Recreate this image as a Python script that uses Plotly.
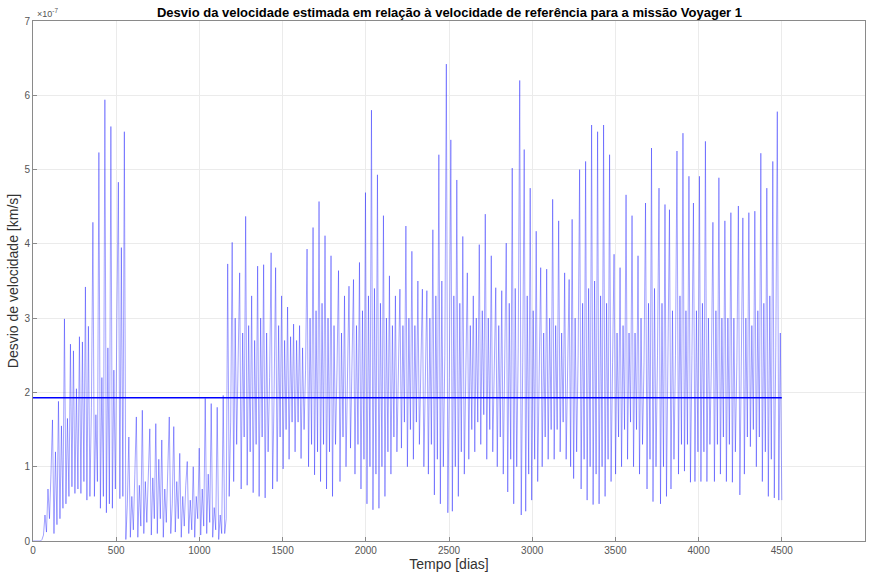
import numpy as np
import plotly.graph_objects as go

# Sampling interval of the series (days)
step_dias = 9
# Velocity deviation, in units of 1e-7 km/s
desvio_e7 = [
    0, 0, 0, 0, 0, 0, 0.02, 0.08, 0.35, 0.12,
    0.7, 0.3, 0.9, 1.63, 0.1, 1.2, 0.22, 1.88, 0.3, 1.55,
    0.44, 2.99, 0.5, 1.65, 0.6, 2.65, 0.73, 2.56, 0.64, 2.05,
    0.7, 2.75, 0.64, 2.68, 0.8, 3.42, 0.55, 2.89, 0.6, 1.8,
    4.29, 0.6, 1.7, 0.8, 5.23, 0.44, 2.2, 0.6, 5.94, 0.38,
    2.6, 0.5, 5.58, 0.44, 2.3, 0.7, 3.0, 4.83, 0.57, 3.95,
    0.6, 5.51, 0.02, 0.5, 1.40, 0.05, 0.6, 0.15, 0.9, 1.67,
    0.05, 0.75, 0.2, 1.76, 0.1, 0.8, 0.25, 0.9, 1.51, 0.08,
    0.85, 0.3, 1.58, 0.1, 1.1, 0.3, 1.36, 0.05, 0.7, 0.25,
    0.95, 1.67, 0.1, 0.5, 1.54, 0.12, 0.8, 0.3, 1.18, 0.05,
    0.6, 0.2, 0.75, 1.07, 0.1, 0.55, 0.15, 1.0, 0.05, 0.6,
    0.3, 1.25, 0.08, 0.7, 0.2, 1.92, 0.1, 0.9, 0.25, 1.85,
    0.05, 0.45, 0.15, 1.80, 0.02, 0.35, 0.1, 1.96, 0.1, 0.3,
    3.73, 0.6, 1.6, 4.02, 0.8, 3.0, 1.3, 2.4, 3.61, 0.7,
    2.8, 1.4, 4.37, 0.75, 2.9, 1.2, 3.3, 0.65, 2.7, 1.3,
    3.70, 0.6, 3.0, 1.4, 3.72, 0.58, 2.8, 1.2, 2.2, 3.88,
    0.7, 2.0, 3.68, 0.8, 2.9, 1.4, 3.30, 0.97, 2.7, 1.5,
    3.15, 1.1, 2.75, 1.6, 2.92, 1.2, 2.7, 1.6, 2.90, 1.11,
    2.6, 1.5, 2.3, 3.93, 1.0, 3.0, 1.3, 4.22, 0.89, 3.1,
    1.2, 4.57, 0.8, 3.2, 1.3, 4.11, 0.7, 3.0, 1.2, 3.84,
    0.6, 2.9, 1.3, 2.3, 3.64, 0.8, 2.8, 1.4, 3.30, 1.0,
    2.2, 3.43, 1.25, 2.4, 3.52, 0.9, 2.9, 1.3, 3.75, 0.7,
    3.1, 1.1, 4.69, 0.5, 3.3, 1.0, 5.80, 0.42, 3.4, 0.9,
    4.93, 0.44, 3.2, 1.0, 4.38, 0.6, 3.0, 1.2, 3.57, 0.9,
    2.9, 1.4, 3.30, 1.2, 2.3, 3.39, 1.25, 2.9, 1.6, 4.24,
    1.0, 3.0, 1.5, 3.90, 1.1, 2.9, 1.6, 3.50, 1.3, 2.4,
    3.39, 1.0, 2.5, 3.37, 0.9, 3.0, 1.3, 4.19, 0.62, 3.3,
    1.1, 5.20, 0.5, 3.5, 1.0, 2.5, 6.42, 0.38, 2.2, 5.40,
    0.4, 3.3, 1.0, 4.86, 0.6, 3.2, 1.2, 4.1, 0.9, 2.4,
    3.61, 1.1, 2.9, 1.5, 3.30, 1.2, 3.0, 1.6, 3.99, 1.3,
    3.1, 1.7, 4.40, 1.1, 3.0, 1.5, 3.84, 1.2, 2.5, 3.41,
    1.0, 2.9, 1.4, 3.37, 0.9, 2.3, 4.01, 0.66, 3.2, 1.1,
    5.02, 0.5, 3.4, 1.0, 2.6, 6.2, 0.35, 2.4, 5.27, 0.4,
    3.3, 0.9, 4.75, 0.55, 3.1, 1.1, 4.17, 0.8, 2.4, 3.68,
    1.0, 2.8, 1.4, 3.66, 1.1, 3.0, 1.5, 4.60, 1.1, 2.9,
    1.5, 4.31, 1.2, 2.8, 1.6, 3.61, 1.1, 2.4, 3.52, 1.0,
    4.33, 0.84, 3.0, 1.2, 2.5, 5.0, 0.7, 3.2, 1.1, 5.11,
    0.55, 3.4, 1.0, 5.60, 0.49, 3.5, 0.9, 5.51, 0.5, 3.3,
    1.0, 5.60, 0.6, 3.2, 1.1, 5.20, 0.8, 2.4, 3.86, 0.9,
    2.8, 1.4, 3.68, 1.0, 2.9, 1.5, 4.66, 1.1, 2.8, 1.6,
    4.38, 1.0, 2.8, 1.5, 3.84, 0.9, 3.0, 1.3, 2.4, 4.55,
    0.7, 3.2, 1.1, 5.29, 0.53, 3.4, 1.0, 2.5, 4.75, 0.5,
    3.2, 1.0, 4.53, 0.6, 2.4, 4.46, 0.7, 3.1, 1.1, 2.5,
    5.25, 0.9, 3.3, 1.3, 5.49, 0.94, 3.1, 1.3, 4.91, 0.79,
    2.5, 4.55, 0.8, 3.1, 1.2, 4.91, 0.8, 3.2, 1.2, 5.38,
    0.8, 3.0, 1.3, 2.4, 4.29, 0.8, 3.1, 1.3, 4.89, 0.9,
    3.0, 1.4, 4.31, 0.8, 3.0, 1.3, 4.42, 0.79, 3.0, 1.2,
    2.4, 4.51, 0.62, 2.5, 4.35, 0.9, 3.0, 1.4, 4.42, 1.27,
    2.9, 1.5, 4.44, 1.0, 3.1, 1.4, 5.22, 0.8, 3.2, 1.2,
    4.75, 0.6, 3.3, 1.1, 5.11, 0.58, 2.6, 5.78, 0.55, 2.8,
    0.55,
]
# Mean deviation (units of 1e-7 km/s)
media_e7 = 1.93

x_ticks = [0, 500, 1000, 1500, 2000, 2500, 3000, 3500, 4000, 4500, 5000]
y_tick_labels = ["0", "1", "2", "3", "4", "5", "6", "7"]

escala = 1e-7
dias = np.arange(len(desvio_e7)) * step_dias
desvio = np.array(desvio_e7) * escala
y_ticks = [int(s) * escala for s in y_tick_labels]

fig = go.Figure()
fig.add_trace(go.Scatter(
    x=dias, y=desvio, mode="lines",
    line=dict(color="rgba(0,0,255,0.72)", width=0.5),
    showlegend=False, hoverinfo="skip",
))
fig.add_trace(go.Scatter(
    x=[dias[0], dias[-1]], y=[media_e7 * escala] * 2, mode="lines",
    line=dict(color="rgb(0,0,255)", width=1.5),
    showlegend=False, hoverinfo="skip",
))

axis_col = "#8a8a8a"
tick_font = dict(family="Liberation Sans Narrow, Arial Narrow, Liberation Sans, Arial", size=10, color="#555555")
label_font = dict(family="Liberation Sans Narrow, Arial Narrow, Liberation Sans, Arial", size=14, color="#333333")

fig.update_layout(
    width=872, height=576,
    margin=dict(l=33, r=6, t=21, b=33),
    paper_bgcolor="white", plot_bgcolor="white",
    title=dict(
        text="<b>Desvio da velocidade estimada em relação à velocidade de referência para a missão Voyager 1</b>",
        x=449.5 / 872, xanchor="center",
        y=1 - 12 / 576, yanchor="middle",
        font=dict(family="Liberation Sans, Arial", size=13, color="#000000"),
    ),
    xaxis=dict(
        range=[0, 5000], tickvals=x_ticks, ticktext=[str(v) for v in x_ticks],
        showgrid=True, gridcolor="#ebebeb", gridwidth=1,
        showline=True, linecolor=axis_col, linewidth=1, mirror=True,
        ticks="inside", ticklen=4, tickcolor=axis_col,
        tickfont=tick_font, zeroline=False,
        title=dict(text="Tempo [dias]", font=label_font, standoff=4),
    ),
    yaxis=dict(
        range=[0, 7 * escala], tickvals=y_ticks, ticktext=y_tick_labels,
        showgrid=True, gridcolor="#ebebeb", gridwidth=1,
        showline=True, linecolor=axis_col, linewidth=1, mirror=True,
        ticks="inside", ticklen=4, tickcolor=axis_col,
        tickfont=tick_font, zeroline=False,
        title=dict(text="Desvio de velocidade [km/s]", font=label_font, standoff=2),
    ),
)
fig.add_annotation(
    text="×10<sup>-7</sup>", xref="paper", yref="paper", x=0.002, y=1.0,
    xanchor="left", yanchor="bottom", showarrow=False,
    font=dict(family="Liberation Sans, Arial", size=9, color="#555555"),
)

fig.write_html("out.html")
